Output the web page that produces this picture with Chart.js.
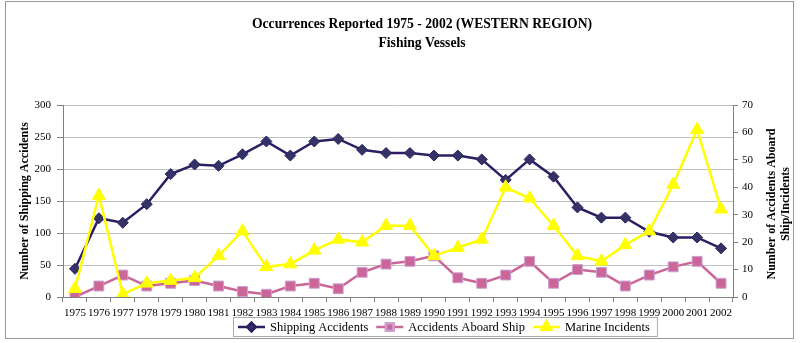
<!DOCTYPE html>
<html>
<head>
<meta charset="utf-8">
<script src="https://cdn.jsdelivr.net/npm/chart.js@4"></script>
<style>
  html, body { margin: 0; padding: 0; background: #fff; }
  #wrap { width: 800px; height: 343px; position: relative; }
</style>
</head>
<body>
<div id="wrap"><canvas id="occChart" width="800" height="343"></canvas></div>
<script>
// years on the category axis
const years = ["1975","1976","1977","1978","1979","1980","1981","1982","1983","1984",
  "1985","1986","1987","1988","1989","1990","1991","1992","1993","1994",
  "1995","1996","1997","1998","1999","2000","2001","2002"];

// left axis
const shippingAccidents = [44, 123, 116, 145, 192, 207, 205, 223, 243, 221,
  243, 247, 230, 225, 225, 221, 221, 215, 183, 215,
  188, 140, 124, 124, 102, 93, 93, 76];

// right axis
const accidentsAboard = [0, 4, 8, 4, 5, 6, 4, 2, 1, 4,
  5, 3, 9, 12, 13, 15, 7, 5, 8, 13,
  5, 10, 9, 4, 8, 11, 13, 5];
const marineIncidents = [3, 37, 1, 5, 6, 7, 15, 24, 11, 12,
  17, 21, 20, 26, 26, 15, 18, 21, 40, 36,
  26, 15, 13, 19, 24, 41, 61, 32];

const leftTicks = { min: 0, max: 300, step: 50 };
const rightTicks = { min: 0, max: 70, step: 10 };

const titleLines = ["Occurrences Reported 1975 - 2002 (WESTERN REGION)", "Fishing Vessels"];
const leftTitle = "Number of Shipping Accidents";
const rightTitle = ["Number of Accidents Aboard", "Ship/Incidents"];

const serif = "'Liberation Serif', 'Times New Roman', serif";
const NAVY = "#2e1f63", PINK = "#cc6699", YELLOW = "#ffff00";

// frame, title, right-axis title and legend drawn on the canvas
const decorations = {
  id: "decorations",
  beforeDraw(chart) {
    const ctx = chart.ctx;
    ctx.save();
    ctx.fillStyle = "#fff";
    ctx.fillRect(0, 0, chart.width, chart.height);
    ctx.strokeStyle = "#999";
    ctx.lineWidth = 1;
    ctx.strokeRect(5.5, 1.5, 788, 337);
    ctx.restore();
  },
  afterDraw(chart) {
    const ctx = chart.ctx;
    const area = chart.chartArea;
    ctx.save();
    ctx.fillStyle = "#000";
    ctx.textAlign = "center";
    ctx.textBaseline = "middle";
    ctx.font = "bold 15px " + serif;
    // the original title face is narrower, squeeze it a bit
    ctx.save();
    ctx.translate(422, 0);
    ctx.scale(0.91, 1);
    ctx.fillText(titleLines[0], 0, 24);
    ctx.fillText(titleLines[1], 0, 43);
    ctx.restore();

    // right axis title, reading bottom to top
    ctx.font = "bold 12px " + serif;
    ctx.translate(772, (area.top + area.bottom) / 2 + 3);
    ctx.rotate(-Math.PI / 2);
    ctx.fillText(rightTitle[0], 0, 0);
    ctx.fillText(rightTitle[1], 0, 14);
    ctx.restore();

    // legend
    ctx.save();
    ctx.font = "12.5px " + serif;
    const items = chart.data.datasets;
    let widths = items.map(d => 27 + 5 + ctx.measureText(d.label).width);
    const gap = 8;
    let total = widths.reduce((a, b) => a + b, 0) + gap * (items.length - 1);
    const boxL = 233, boxT = 317, boxH = 19;
    const boxW = total + 12;
    ctx.fillStyle = "#fff";
    ctx.fillRect(boxL, boxT, boxW, boxH);
    ctx.strokeStyle = "#aaa";
    ctx.lineWidth = 1;
    ctx.strokeRect(boxL + 0.5, boxT + 0.5, boxW, boxH);
    let x = boxL + 5;
    const cy = boxT + boxH / 2 + 0.5;
    items.forEach((d, i) => {
      ctx.strokeStyle = d.borderColor;
      ctx.lineWidth = 2.5;
      ctx.beginPath();
      ctx.moveTo(x, cy);
      ctx.lineTo(x + 27, cy);
      ctx.stroke();
      Chart.helpers.drawPoint(ctx, {
        pointStyle: d.pointStyle,
        radius: d.pointRadius * 0.75,
        borderWidth: 1,
        rotation: 0
      }, x + 13.5, cy);
      ctx.fillStyle = d.pointBackgroundColor;
      ctx.strokeStyle = d.pointBorderColor;
      ctx.fill();
      ctx.stroke();
      ctx.fillStyle = "#000";
      ctx.textAlign = "left";
      ctx.textBaseline = "middle";
      ctx.fillText(d.label, x + 32, cy + 0.5);
      x += widths[i] + gap;
    });
    ctx.restore();
  }
};

const ctx = document.getElementById("occChart").getContext("2d");
new Chart(ctx, {
  type: "line",
  data: {
    labels: years,
    datasets: [
      {
        label: "Shipping Accidents",
        data: shippingAccidents,
        yAxisID: "y",
        borderColor: NAVY,
        backgroundColor: NAVY,
        borderWidth: 2.5,
        pointStyle: "rectRot",
        pointRadius: 5.5,
        pointBackgroundColor: "#333366",
        pointBorderColor: NAVY,
        pointBorderWidth: 1,
        tension: 0,
        order: 2
      },
      {
        label: "Accidents Aboard Ship",
        data: accidentsAboard,
        yAxisID: "y1",
        borderColor: PINK,
        backgroundColor: PINK,
        borderWidth: 2.5,
        pointStyle: "rect",
        pointRadius: 7,
        pointBackgroundColor: PINK,
        pointBorderColor: "#c9a0d0",
        pointBorderWidth: 1,
        tension: 0,
        order: 1
      },
      {
        label: "Marine Incidents",
        data: marineIncidents,
        yAxisID: "y1",
        borderColor: YELLOW,
        backgroundColor: YELLOW,
        borderWidth: 2.5,
        pointStyle: "triangle",
        pointRadius: 7.5,
        pointBackgroundColor: YELLOW,
        pointBorderColor: YELLOW,
        pointBorderWidth: 1,
        tension: 0,
        order: 0
      }
    ]
  },
  options: {
    responsive: false,
    animation: false,
    layout: { padding: { left: 4, right: 0, top: 105, bottom: 0 } },
    plugins: {
      legend: { display: false },
      title: { display: false },
      tooltip: { enabled: false }
    },
    scales: {
      x: {
        offset: true,
        grid: { display: true, drawOnChartArea: false, drawTicks: true, tickLength: 5, tickColor: "#808080", offset: true },
        border: { color: "#808080", width: 1 },
        ticks: { color: "#000", font: { family: serif, size: 11 }, maxRotation: 0, minRotation: 0, autoSkip: false, padding: 5 },
        afterFit(scale) { scale.height = 46; }
      },
      y: {
        position: "left",
        min: leftTicks.min,
        max: leftTicks.max,
        grid: { color: "#c0c0c0", lineWidth: 1, tickLength: 6, tickColor: "#808080" },
        border: { color: "#808080", width: 1 },
        ticks: { stepSize: leftTicks.step, color: "#000", font: { family: serif, size: 11 }, padding: 6 },
        title: {
          display: true,
          text: leftTitle,
          color: "#000",
          font: { family: serif, size: 12, weight: "bold" },
          padding: { top: 14, bottom: 0 }
        },
        afterFit(scale) { scale.width = 59; }
      },
      y1: {
        position: "right",
        min: rightTicks.min,
        max: rightTicks.max,
        grid: { drawOnChartArea: false, tickLength: 5, tickColor: "#808080" },
        border: { color: "#808080", width: 1 },
        ticks: { stepSize: rightTicks.step, color: "#000", font: { family: serif, size: 11 }, padding: 4 },
        afterFit(scale) { scale.width = 67; }
      }
    }
  },
  plugins: [decorations]
});
</script>
</body>
</html>
